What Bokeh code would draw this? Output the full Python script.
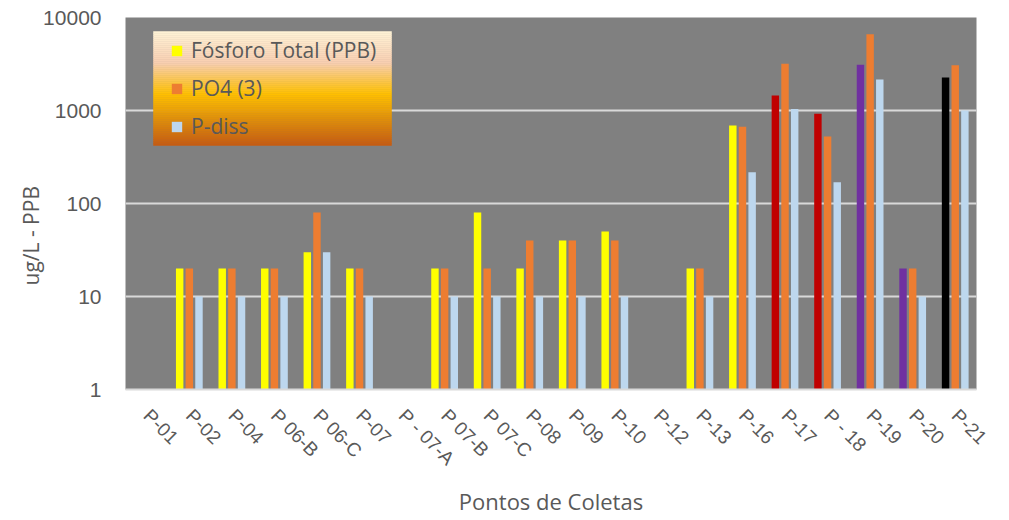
import math
from bokeh.plotting import figure
from bokeh.models import (ColumnDataSource, FixedTicker, Legend, LegendItem, Title,
                          Range1d, CustomJSTickFormatter)
from bokeh.embed import file_html
from bokeh.resources import INLINE

# ---------------- data ----------------
categories = ["P-01", "P-02", "P-04", "P 06-B", "P 06-C", "P-07", "P - 07-A", "P 07-B",
              "P 07-C", "P-08", "P-09", "P-10", "P-12", "P-13", "P-16", "P-17", "P - 18",
              "P-19", "P-20", "P-21"]
fosforo_total = [None, 20, 20, 20, 30, 20, None, 20, 80, 20, 40, 50, None, 20, 690, 1450, 920,
                 3100, 20, 2260]
po4 = [None, 20, 20, 20, 80, 20, None, 20, 20, 40, 40, 40, None, 20, 670, 3180, 525,
       6600, 20, 3070]
p_diss = [None, 10, 10, 10, 30, 10, None, 10, 10, 10, 10, 10, None, 10, 217, 1040, 169,
          2150, 10, 1000]
series_names = ["Fósforo Total (PPB)", "PO4 (3)", "P-diss"]
y_ticks = [1, 10, 100, 1000, 10000]
x_title = "Pontos de Coletas"
y_title = "ug/L - PPB"

# ---------------- styles ----------------
fosforo_colors = ["#FFFF00"] * 15 + ["#C00000", "#C00000", "#7030A0", "#7030A0", "#000000"]
po4_color = "#ED7D31"
pdiss_color = "#BDD7EE"
text_color = "#595959"
grid_color = "#D9D9D9"
FONT_T = "Open Sans"
FONT_L = "Liberation Sans"

n = len(categories)
p = figure(frame_width=851, frame_height=372,
           x_range=Range1d(0, n), y_range=Range1d(1, 10000), y_axis_type="log",
           output_backend="svg", toolbar_location=None,
           min_border_left=125, min_border_right=25, min_border_top=17, min_border_bottom=100)
p.background_fill_color = "#808080"
p.border_fill_color = "white"
p.outline_line_color = None


def make_source(vals, offset, colors):
    xs, tops, cols = [], [], []
    for i, v in enumerate(vals):
        if v is None:
            continue
        xs.append(i + 0.5 + offset)
        tops.append(v)
        cols.append(colors[i] if isinstance(colors, list) else colors)
    return ColumnDataSource(dict(x=xs, top=tops, color=cols))


# gradient legend background (legend box decoration)
leg_left, leg_right = 28 / 42.55, 266 / 42.55
leg_top_log, leg_bot_log = 358 / 93.0, 244 / 93.0
stops = [(0.0, (255, 243, 214)), (0.28, (248, 206, 176)), (0.55, (255, 192, 0)),
         (0.78, (222, 140, 10)), (1.0, (197, 90, 17))]


def grad(t):
    for (t0, c0), (t1, c1) in zip(stops[:-1], stops[1:]):
        if t0 <= t <= t1:
            f = (t - t0) / (t1 - t0)
            return "#%02x%02x%02x" % tuple(int(round(a + (b - a) * f)) for a, b in zip(c0, c1))
    return "#%02x%02x%02x" % stops[-1][1]


nb = 57
gl, gr, gt, gb, gc = [], [], [], [], []
for k in range(nb):
    t0 = k / nb
    t1 = (k + 1) / nb
    gl.append(leg_left)
    gr.append(leg_right)
    gt.append(10 ** (leg_top_log - (leg_top_log - leg_bot_log) * t0))
    gb.append(10 ** (leg_top_log - (leg_top_log - leg_bot_log) * t1))
    gc.append(grad((t0 + t1) / 2))
p.quad(left=gl, right=gr, top=gt, bottom=gb, fill_color=gc, line_color=gc, line_width=0.5)

w = 0.175
r1 = p.vbar(x="x", top="top", bottom=1, width=w, fill_color="color", line_color=None,
            source=make_source(fosforo_total, -0.227, fosforo_colors))
r2 = p.vbar(x="x", top="top", bottom=1, width=w, fill_color="color", line_color=None,
            source=make_source(po4, 0.0, po4_color))
r3 = p.vbar(x="x", top="top", bottom=1, width=w, fill_color="color", line_color=None,
            source=make_source(p_diss, 0.227, pdiss_color))

# x axis
p.xaxis.ticker = FixedTicker(ticks=[i + 0.5 for i in range(n)])
p.xaxis.major_label_overrides = {i + 0.5: c for i, c in enumerate(categories)}
p.xaxis.major_label_orientation = -math.pi / 4
p.xaxis.axis_line_color = grid_color
p.xaxis.axis_line_width = 2
p.xaxis.major_tick_line_color = None
p.xaxis.minor_tick_line_color = None
p.xaxis.major_label_standoff = 17
p.xaxis.major_label_text_font = FONT_L
p.xaxis.major_label_text_font_size = "19px"
p.xaxis.major_label_text_color = text_color
p.xaxis.axis_label = x_title
p.xaxis.axis_label_text_font = FONT_T
p.xaxis.axis_label_text_font_size = "22px"
p.xaxis.axis_label_text_font_style = "normal"
p.xaxis.axis_label_text_color = text_color
p.xaxis.axis_label_standoff = 6
p.xgrid.visible = False

# y axis
p.yaxis.ticker = FixedTicker(ticks=y_ticks)
p.yaxis.formatter = CustomJSTickFormatter(code="return tick.toFixed(0)")
p.yaxis.axis_line_color = None
p.yaxis.major_tick_line_color = None
p.yaxis.minor_tick_line_color = None
p.yaxis.major_tick_out = 0
p.yaxis.major_tick_in = 0
p.yaxis.major_label_standoff = 24
p.yaxis.major_label_text_font = FONT_L
p.yaxis.major_label_text_font_size = "21px"
p.yaxis.major_label_text_color = text_color
p.ygrid.ticker = FixedTicker(ticks=y_ticks)
p.ygrid.grid_line_color = grid_color
p.ygrid.grid_line_width = 2

p.add_layout(Title(text=y_title, align="left", offset=104, standoff=-8,
                   text_font=FONT_T, text_font_size="21px", text_font_style="normal",
                   text_color=text_color), "left")

legend = Legend(items=[LegendItem(label=series_names[0], renderers=[r1], index=0),
                       LegendItem(label=series_names[1], renderers=[r2], index=0),
                       LegendItem(label=series_names[2], renderers=[r3], index=0)],
                location=(45, 249), background_fill_alpha=0, border_line_color=None,
                padding=0, margin=0, glyph_width=13, glyph_height=13, label_height=24,
                spacing=10, label_standoff=8, label_text_font=FONT_T,
                label_text_font_size="21px", label_text_color=text_color)
p.add_layout(legend)

open("out.html", "w").write(file_html(p, INLINE))
